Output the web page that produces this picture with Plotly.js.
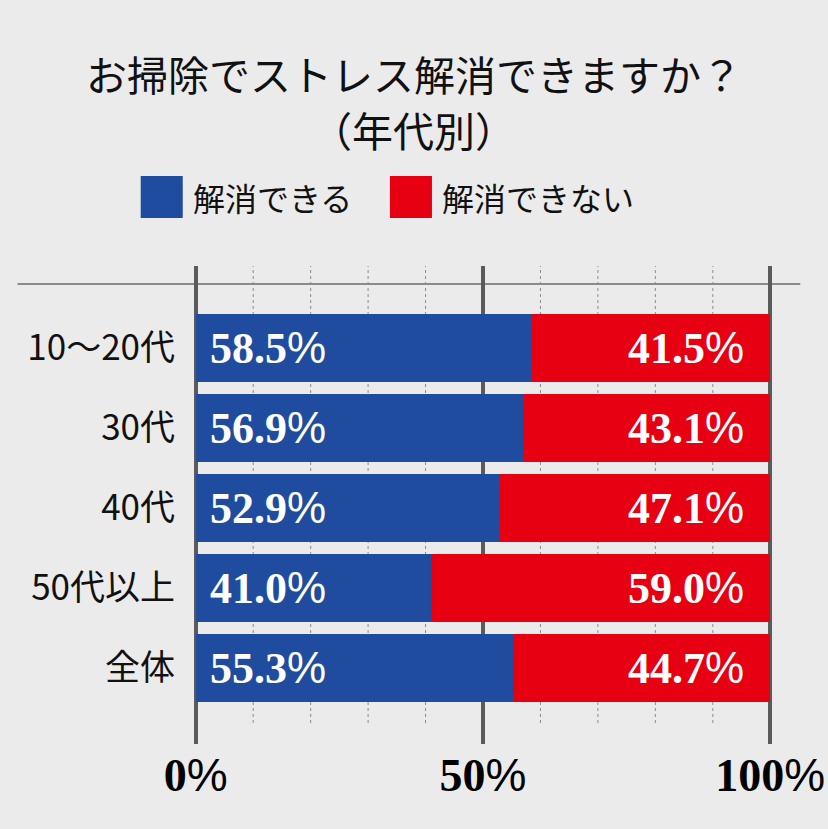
<!DOCTYPE html>
<html>
<head>
<meta charset="utf-8">
<script src="https://cdn.plot.ly/plotly-3.0.1.min.js"></script>
<style>
  html, body { margin: 0; padding: 0; background: #ebebeb; }
  #chart { width: 828px; height: 829px; }
</style>
</head>
<body>
<div id="chart"></div>
<script>
// data
const categories = ["10～20代", "30代", "40代", "50代以上", "全体"];
const canValues = [58.5, 56.9, 52.9, 41.0, 55.3];
const cannotValues = [41.5, 43.1, 47.1, 59.0, 44.7];
const seriesNames = ["解消できる", "解消できない"];
const titleLines = ["お掃除でストレス解消できますか？", "（年代別）"];
const majorTicks = [0, 50, 100];
const minorTicks = [10, 20, 30, 40, 60, 70, 80, 90];

const BLUE = "#1f4c9e";
const RED = "#e60012";
const W = 828, H = 829;

// plot box in pixels (0% -> 196, 100% -> 770, top 266, bottom 744)
const X0 = 196, X100 = 770, TOP = 266, BOTTOM = 744;
const pxPer = (X100 - X0) / 100;
const L = X0 - pxPer, R = W - (X100 + pxPer);
const px = x => (x - L) / (W - L - R);        // pixel -> paper x
const py = y => (BOTTOM - y) / (BOTTOM - TOP); // pixel -> paper y

// bold serif number + thin sans percent sign
function pct(v) {
  return "<b>" + (typeof v === "number" ? v.toFixed(1) : v) + "</b>" +
    "<span style=\"font-family:Liberation Sans;font-weight:normal\">%</span>";
}

function draw() {
  const traces = [
    {
      type: "bar", orientation: "h", name: seriesNames[0],
      y: categories, x: canValues,
      marker: { color: BLUE }, width: 0.85, hoverinfo: "skip"
    },
    {
      type: "bar", orientation: "h", name: seriesNames[1],
      y: categories, x: cannotValues,
      marker: { color: RED }, width: 0.85, hoverinfo: "skip"
    }
  ];

  let annotations = [];
  categories.forEach((c, i) => {
    annotations.push({
      x: 0, y: c, xref: "x", yref: "y", xanchor: "left", xshift: 12,
      text: pct(canValues[i]), showarrow: false,
      font: { family: "Liberation Serif", size: 44, color: "#ffffff" }
    });
    annotations.push({
      x: 100, y: c, xref: "x", yref: "y", xanchor: "right", xshift: -24,
      text: pct(cannotValues[i]), showarrow: false,
      font: { family: "Liberation Serif", size: 44, color: "#ffffff" }
    });
  });

  // title, two lines placed separately
  [73, 129].forEach((yy, i) => {
    annotations.push({
      x: px(414), y: py(yy), xref: "paper", yref: "paper",
      xanchor: "center", yanchor: "middle", text: titleLines[i], showarrow: false,
      font: { family: "Noto Sans CJK JP", size: 41, color: "#111" }
    });
  });

  // custom legend
  const legendItems = [
    { x: 141, color: BLUE, name: seriesNames[0] },
    { x: 390, color: RED, name: seriesNames[1] }
  ];
  let shapes = [];
  legendItems.forEach(it => {
    shapes.push({
      type: "rect", xref: "paper", yref: "paper",
      x0: px(it.x), x1: px(it.x + 42), y0: py(218), y1: py(176),
      fillcolor: it.color, line: { width: 0 }
    });
    annotations.push({
      x: px(it.x + 50), y: py(197), xref: "paper", yref: "paper",
      xanchor: "left", yanchor: "middle", text: it.name, showarrow: false,
      font: { family: "Noto Sans CJK JP", size: 32, color: "#111" }
    });
  });

  // dotted minor lines
  minorTicks.forEach(t => {
    shapes.push({
      type: "line", xref: "x", yref: "paper", x0: t, x1: t,
      y0: py(723), y1: 1, layer: "below",
      line: { color: "#8c8c8c", width: 1, dash: "dot" }
    });
  });
  // horizontal rule under legend
  shapes.push({
    type: "line", xref: "paper", yref: "paper",
    x0: px(18), x1: px(800), y0: py(284), y1: py(284),
    layer: "below", line: { color: "#8a8a8a", width: 2 }
  });

  const layout = {
    width: W, height: H,
    paper_bgcolor: "#ebebeb", plot_bgcolor: "#ebebeb",
    margin: { l: L, r: R, t: TOP, b: H - BOTTOM },
    barmode: "stack", showlegend: false,
    xaxis: {
      range: [-1, 101], tickvals: majorTicks,
      ticktext: majorTicks.map(t => pct(String(t))),
      showgrid: true, gridcolor: "#5a5a5a", gridwidth: 4,
      zeroline: false, showline: false, ticks: "",
      tickfont: { family: "Liberation Serif", size: 46, color: "#000" },
      fixedrange: true
    },
    yaxis: {
      type: "category", categoryorder: "array", categoryarray: categories,
      range: [(BOTTOM - 348) / 80, (TOP - 348) / 80],
      showgrid: false, zeroline: false, showline: false, ticks: "",
      ticklabelstandoff: 14,
      tickfont: { family: "Noto Sans CJK JP", size: 35, color: "#111" },
      fixedrange: true
    },
    shapes: shapes,
    annotations: annotations
  };

  Plotly.newPlot("chart", traces, layout, { displayModeBar: false, staticPlot: true });
}

draw();
</script>
</body>
</html>
